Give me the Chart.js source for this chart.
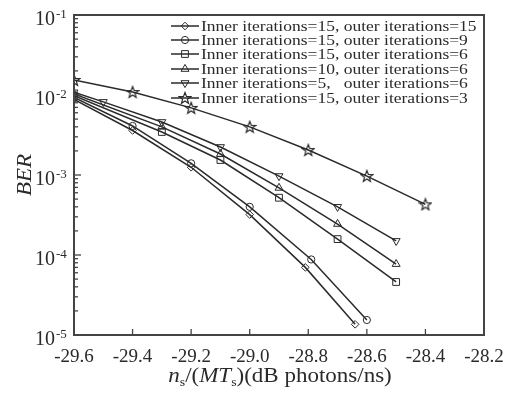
<!DOCTYPE html>
<html>
<head>
<meta charset="utf-8">
<script src="https://cdn.jsdelivr.net/npm/chart.js@4.4.0/dist/chart.umd.min.js"></script>
<style>
  html, body { margin: 0; padding: 0; background: #fff; }
</style>
</head>
<body>
<canvas id="c" width="515" height="394"></canvas>
<script>
// series labels (legend order)
const LABELS = [
  "Inner iterations=15, outer iterations=15",
  "Inner iterations=15, outer iterations=9",
  "Inner iterations=15, outer iterations=6",
  "Inner iterations=10, outer iterations=6",
  "Inner iterations=5,   outer iterations=6",
  "Inner iterations=15, outer iterations=3"
];

// values
const X_IN15_OUT15 = [-29.6, -29.4, -29.2, -29.0, -28.81, -28.64];
const BER_IN15_OUT15 = [0.0088, 0.0036, 0.00125, 0.00032, 0.00007, 0.0000136];

const X_IN15_OUT9 = [-29.6, -29.4, -29.2, -29.0, -28.79, -28.6];
const BER_IN15_OUT9 = [0.0093, 0.0041, 0.0014, 0.0004, 0.000088, 0.0000154];

const X_IN15_OUT6 = [-29.6, -29.3, -29.1, -28.9, -28.7, -28.5];
const BER_IN15_OUT6 = [0.0098, 0.00345, 0.00154, 0.00052, 0.000158, 0.000046];

const X_IN10_OUT6 = [-29.6, -29.3, -29.1, -28.9, -28.7, -28.5];
const BER_IN10_OUT6 = [0.0103, 0.0040, 0.00183, 0.00069, 0.000244, 0.000077];

const X_IN5_OUT6 = [-29.6, -29.5, -29.3, -29.1, -28.9, -28.7, -28.5];
const BER_IN5_OUT6 = [0.0108, 0.0082, 0.0046, 0.00224, 0.00097, 0.0004, 0.00015];

const X_IN15_OUT3 = [-29.6, -29.4, -29.2, -29.0, -28.8, -28.6, -28.4];
const BER_IN15_OUT3 = [0.0154, 0.0109, 0.0069, 0.0040, 0.00205, 0.00097, 0.00043];

const Y_DECADES = [-5, -4, -3, -2, -1];

const INK = "#2a2a2a";
const SERIF = "'Liberation Serif', 'Times New Roman', serif";

function starImage(size) {
  const c = document.createElement("canvas");
  c.width = c.height = size;
  const g = c.getContext("2d");
  const cx = size / 2, cy = size / 2 + 0.5, R = size / 2 - 1, r = R * 0.42;
  g.beginPath();
  for (let i = 0; i < 10; i++) {
    const a = -Math.PI / 2 + i * Math.PI / 5;
    const rr = i % 2 ? r : R;
    g.lineTo(cx + rr * Math.cos(a), cy + rr * Math.sin(a));
  }
  g.closePath();
  g.strokeStyle = INK;
  g.lineWidth = 1.2;
  g.stroke();
  return c;
}
const STAR = starImage(14);

// marker styles per series
const MARKERS = [
  { style: "rectRot", radius: 3.8, rotation: 0 },
  { style: "circle", radius: 3.6, rotation: 0 },
  { style: "rect", radius: 4.8, rotation: 0 },
  { style: "triangle", radius: 4.6, rotation: 0 },
  { style: "triangle", radius: 4.6, rotation: 180 },
  { style: STAR, radius: 6, rotation: 0 }
];

const pts = (xs, ys) => xs.map((x, i) => ({ x, y: ys[i] }));
const SERIES = [
  pts(X_IN15_OUT15, BER_IN15_OUT15),
  pts(X_IN15_OUT9, BER_IN15_OUT9),
  pts(X_IN15_OUT6, BER_IN15_OUT6),
  pts(X_IN10_OUT6, BER_IN10_OUT6),
  pts(X_IN5_OUT6, BER_IN5_OUT6),
  pts(X_IN15_OUT3, BER_IN15_OUT3)
];

const datasets = SERIES.map((data, i) => ({
  label: LABELS[i],
  data,
  showLine: true,
  borderColor: INK,
  borderWidth: 1.5,
  pointStyle: MARKERS[i].style,
  pointRadius: MARKERS[i].radius,
  pointRotation: MARKERS[i].rotation,
  pointBorderWidth: 1,
  pointBorderColor: INK,
  pointBackgroundColor: "rgba(255,255,255,0)",
  tension: 0
}));

// frame, inward ticks, y labels, axis titles, legend
const decorPlugin = {
  id: "decor",
  afterDraw(chart) {
    const ctx = chart.ctx;
    const a = chart.chartArea;
    const xs = chart.scales.x, ys = chart.scales.y;
    ctx.save();
    ctx.strokeStyle = "#444";
    ctx.lineWidth = 2;
    ctx.strokeRect(a.left, a.top, a.right - a.left, a.bottom - a.top);

    // x ticks pointing in
    ctx.lineWidth = 1.3;
    xs.ticks.forEach(t => {
      const px = xs.getPixelForValue(t.value);
      ctx.beginPath();
      ctx.moveTo(px, a.bottom);
      ctx.lineTo(px, a.bottom - 6);
      ctx.stroke();
    });

    // y ticks (decades + minors) pointing in
    Y_DECADES.forEach(e => {
      for (let m = 1; m <= 9; m++) {
        if (e === -1 && m > 1) break;
        const py = ys.getPixelForValue(m * Math.pow(10, e));
        ctx.beginPath();
        ctx.moveTo(a.left, py);
        ctx.lineTo(a.left + (m === 1 ? 7 : 4), py);
        ctx.stroke();
      }
    });

    // y decade labels 10^e
    ctx.fillStyle = INK;
    ctx.textBaseline = "middle";
    Y_DECADES.forEach(e => {
      const py = ys.getPixelForValue(Math.pow(10, e));
      ctx.font = "20px " + SERIF;
      ctx.textAlign = "left";
      ctx.fillText("10", 35, py + 5);
      ctx.font = "13px " + SERIF;
      ctx.fillText("-" + (-e), 56, py);
    });

    // y title
    ctx.save();
    ctx.translate(26, 175);
    ctx.rotate(-Math.PI / 2);
    ctx.scale(1.15, 1);
    ctx.font = "italic 20px " + SERIF;
    ctx.textAlign = "center";
    ctx.fillText("BER", 0, 0);
    ctx.restore();

    // x title with subscripts
    const parts = [
      { t: "n", f: "italic 20px ", dy: 0 },
      { t: "s", f: "12px ", dy: 4 },
      { t: "/(", f: "20px ", dy: 0 },
      { t: "MT", f: "italic 20px ", dy: 0 },
      { t: "s", f: "12px ", dy: 4 },
      { t: ")(dB photons/ns)", f: "20px ", dy: 0 }
    ];
    const sx = 1.15;
    let w = 0;
    parts.forEach(p => { ctx.font = p.f + SERIF; p.w = ctx.measureText(p.t).width; w += p.w; });
    ctx.save();
    ctx.translate(280 - (w * sx) / 2, 382);
    ctx.scale(sx, 1);
    ctx.textBaseline = "alphabetic";
    ctx.textAlign = "left";
    let cx = 0;
    parts.forEach(p => { ctx.font = p.f + SERIF; ctx.fillText(p.t, cx, p.dy); cx += p.w; });
    ctx.restore();

    // legend
    const rowY = [26, 40, 54, 69, 83, 98];
    chart.data.datasets.forEach((ds, i) => {
      const y = rowY[i];
      ctx.strokeStyle = INK;
      ctx.lineWidth = 1.5;
      ctx.beginPath();
      ctx.moveTo(171, y);
      ctx.lineTo(199, y);
      ctx.stroke();
      ctx.lineWidth = 1;
      ctx.fillStyle = "rgba(255,255,255,0)";
      const mk = MARKERS[i];
      Chart.helpers.drawPoint(ctx, {
        pointStyle: mk.style, radius: mk.radius, rotation: mk.rotation, borderWidth: 1
      }, 185, y);
      ctx.save();
      ctx.translate(201, y);
      ctx.scale(1.13, 1);
      ctx.font = "15.5px " + SERIF;
      ctx.textAlign = "left";
      ctx.textBaseline = "middle";
      ctx.fillStyle = INK;
      ctx.fillText(ds.label, 0, 1);
      ctx.restore();
    });
    ctx.restore();
  }
};

new Chart(document.getElementById("c"), {
  type: "scatter",
  data: { datasets },
  options: {
    responsive: false,
    animation: false,
    layout: { padding: { top: 15, right: 31, left: 0, bottom: 0 } },
    plugins: { legend: { display: false }, tooltip: { enabled: false } },
    scales: {
      x: {
        type: "linear",
        min: -29.6,
        max: -28.2,
        grid: { display: false },
        border: { display: false },
        ticks: {
          stepSize: 0.2,
          padding: 3,
          color: INK,
          font: { family: SERIF, size: 19 },
          maxRotation: 0,
          callback: v => Number(v).toFixed(1)
        },
        afterFit: s => { s.height = 59; }
      },
      y: {
        type: "logarithmic",
        min: 1e-5,
        max: 1e-1,
        grid: { display: false },
        border: { display: false },
        ticks: { display: false },
        afterFit: s => { s.width = 74; }
      }
    }
  },
  plugins: [decorPlugin]
});
</script>
</body>
</html>
